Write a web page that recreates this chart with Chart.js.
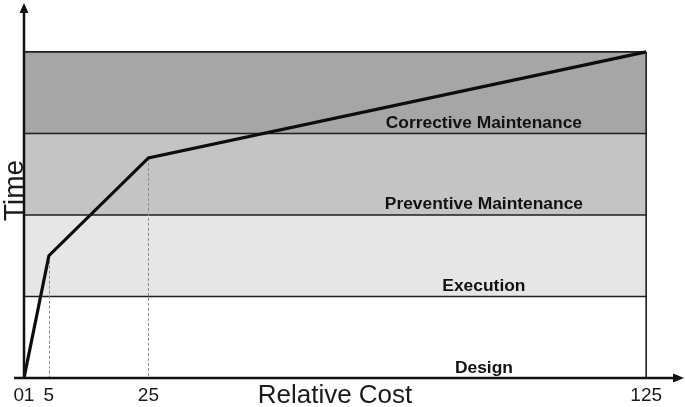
<!DOCTYPE html>
<html>
<head>
<meta charset="utf-8">
<script src="https://cdn.jsdelivr.net/npm/chart.js@4/dist/chart.umd.min.js"></script>
<style>
  html, body { margin: 0; padding: 0; background: #fff; }
  #wrap { width: 685px; height: 407px; }
</style>
</head>
<body>
<div id="wrap"><canvas id="myChart"></canvas></div>
<script>
// cost / time curve
const costValues = [0, 5, 25, 125];
const timeValues = [0, 1.5, 2.7, 4];
const costTicks = [0, 1, 5, 25, 125];

// phases (bottom to top)
const phaseNames = ['Design', 'Execution', 'Preventive Maintenance', 'Corrective Maintenance'];
const phaseFrom = [0, 1, 2, 3];
const phaseTo = [1, 2, 3, 4];
const phaseColors = ['#ffffff', '#e6e6e6', '#c4c4c4', '#a6a6a6'];
const phaseLabelX = 92.4;

const bandsPlugin = {
    id: 'bands',
    beforeDatasetsDraw(chart) {
        const { ctx, scales: { x, y } } = chart;
        const x0 = x.getPixelForValue(0);
        const x1 = x.getPixelForValue(125);
        ctx.save();
        phaseNames.forEach((name, i) => {
            const top = y.getPixelForValue(phaseTo[i]);
            const bot = y.getPixelForValue(phaseFrom[i]);
            ctx.fillStyle = phaseColors[i];
            ctx.fillRect(x0, top, x1 - x0, bot - top);
        });
        // band borders
        ctx.strokeStyle = '#1e1e1e';
        ctx.lineWidth = 1.6;
        phaseTo.forEach((v) => {
            const py = y.getPixelForValue(v);
            ctx.beginPath();
            ctx.moveTo(x0, py);
            ctx.lineTo(x1, py);
            ctx.stroke();
        });
        ctx.beginPath();
        ctx.moveTo(x1, y.getPixelForValue(phaseTo[phaseTo.length - 1]));
        ctx.lineTo(x1, y.getPixelForValue(0));
        ctx.stroke();
        // dashed drop lines
        ctx.strokeStyle = '#8a8a8a';
        ctx.lineWidth = 1;
        ctx.setLineDash([3, 2]);
        [1, 2].forEach((i) => {
            const px = Math.round(x.getPixelForValue(costValues[i])) + 0.5;
            ctx.beginPath();
            ctx.moveTo(px, y.getPixelForValue(timeValues[i]));
            ctx.lineTo(px, y.getPixelForValue(0));
            ctx.stroke();
        });
        ctx.setLineDash([]);
        // phase labels
        ctx.fillStyle = '#111';
        ctx.font = 'bold 17.4px "Liberation Sans", Arial, sans-serif';
        ctx.textAlign = 'center';
        ctx.textBaseline = 'alphabetic';
        phaseNames.forEach((name, i) => {
            ctx.fillText(name, x.getPixelForValue(phaseLabelX), y.getPixelForValue(phaseFrom[i]) - 5.5);
        });
        ctx.restore();
    },
    afterDraw(chart) {
        const { ctx, chartArea, scales: { x, y } } = chart;
        const ox = x.getPixelForValue(0);
        const oy = y.getPixelForValue(0);
        ctx.save();
        ctx.strokeStyle = '#111';
        ctx.fillStyle = '#111';
        ctx.lineWidth = 2.5;
        // y axis
        ctx.beginPath();
        ctx.moveTo(ox, oy + 1);
        ctx.lineTo(ox, chartArea.top + 8);
        ctx.stroke();
        ctx.beginPath();
        ctx.moveTo(ox, chartArea.top);
        ctx.lineTo(ox - 4.5, chartArea.top + 10);
        ctx.lineTo(ox + 4.5, chartArea.top + 10);
        ctx.closePath();
        ctx.fill();
        // x axis
        ctx.beginPath();
        ctx.moveTo(14, oy);
        ctx.lineTo(chartArea.right - 8, oy);
        ctx.stroke();
        ctx.beginPath();
        ctx.moveTo(chartArea.right + 1, oy);
        ctx.lineTo(chartArea.right - 10, oy - 4.5);
        ctx.lineTo(chartArea.right - 10, oy + 4.5);
        ctx.closePath();
        ctx.fill();
        // x title sits beside the tick labels
        ctx.font = '26px "Liberation Sans", Arial, sans-serif';
        ctx.textAlign = 'center';
        ctx.textBaseline = 'alphabetic';
        ctx.fillStyle = '#1a1a1a';
        ctx.fillText('Relative Cost', 335, 403);
        ctx.restore();
    }
};

const ctx = document.querySelector('#myChart');

new Chart(ctx, {
    type: 'line',
    data: {
        datasets: [{
            data: costValues.map((c, i) => ({ x: c, y: timeValues[i] })),
            borderColor: '#0d0d0d',
            borderWidth: 3.2,
            pointRadius: 0,
            tension: 0,
            fill: false
        }]
    },
    options: {
        responsive: true,
        maintainAspectRatio: false,
        animation: false,
        layout: { padding: { top: 3, right: 2, left: 0, bottom: 0 } },
        plugins: {
            legend: { display: false },
            tooltip: { enabled: false }
        },
        scales: {
            x: {
                type: 'linear',
                min: 0,
                max: 132.4,
                grid: { display: false, drawTicks: false },
                border: { display: false },
                afterBuildTicks: (s) => { s.ticks = costTicks.map((v) => ({ value: v })); },
                afterFit: (s) => { s.height = 29; },
                ticks: {
                    autoSkip: false,
                    maxRotation: 0,
                    padding: 6,
                    color: '#1a1a1a',
                    font: { family: '"Liberation Sans", Arial, sans-serif', size: 19 },
                    callback: (v) => (v === 0 ? '0  ' : String(v))
                }
            },
            y: {
                type: 'linear',
                min: 0,
                max: 4.6,
                grid: { display: false, drawTicks: false },
                border: { display: false },
                ticks: { display: false },
                afterFit: (s) => { s.width = 24; },
                title: {
                    display: true,
                    text: 'Time',
                    color: '#1a1a1a',
                    padding: { top: 1, bottom: 0 },
                    font: { family: '"Liberation Sans", Arial, sans-serif', size: 28, lineHeight: 1 }
                }
            }
        }
    },
    plugins: [bandsPlugin]
});
</script>
</body>
</html>
